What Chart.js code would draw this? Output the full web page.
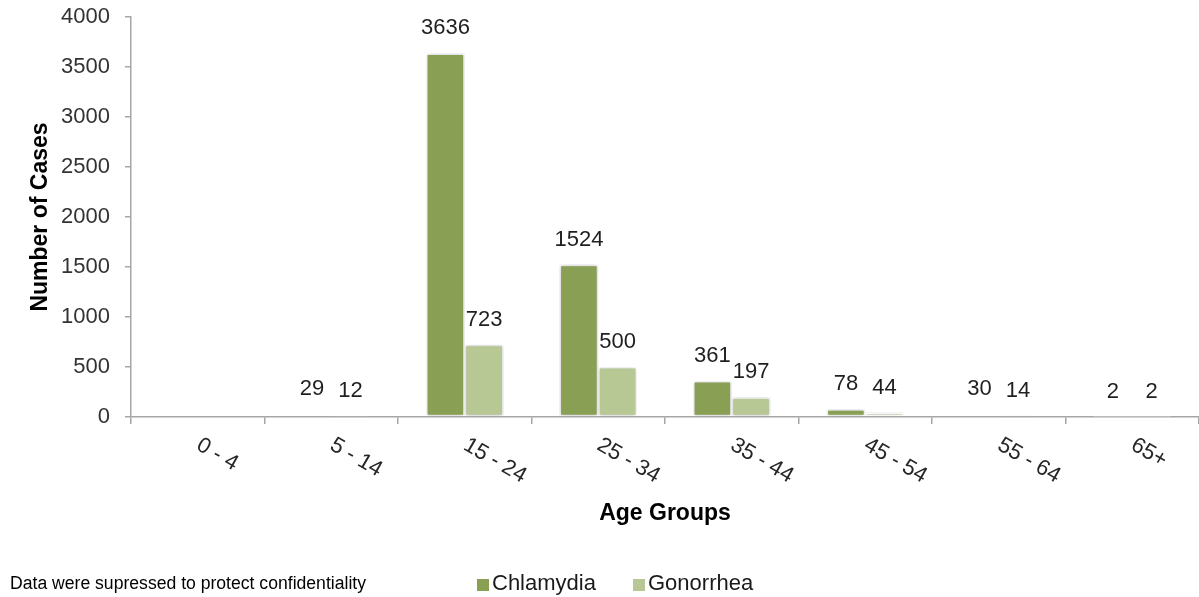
<!DOCTYPE html>
<html>
<head>
<meta charset="utf-8">
<script src="https://cdn.jsdelivr.net/npm/chart.js@4/dist/chart.umd.min.js"></script>
<style>
  html, body { margin: 0; padding: 0; background: #ffffff; }
  #wrap { position: relative; width: 1199px; height: 597px; }
</style>
</head>
<body>
<div id="wrap"><canvas id="c" width="1199" height="597"></canvas></div>
<script>
// ---- data ----
const categories = ['0 - 4', '5 - 14', '15 - 24', '25 - 34', '35 - 44', '45 - 54', '55 - 64', '65+'];
const chlamydia = [null, 29, 3636, 1524, 361, 78, 30, 2];
const gonorrhea = [null, 12, 723, 500, 197, 44, 14, 2];
const seriesNames = ['Chlamydia', 'Gonorrhea'];
const yMin = 0;
const yMax = 4000;
const yStep = 500;
const xTitle = 'Age Groups';
const yTitle = 'Number of Cases';
const footnote = 'Data were supressed to protect confidentiality';

// ---- style ----
const FONT = '"Liberation Sans", Arial, sans-serif';
const colors = ['#89A054', '#B7C895'];
const axisColor = '#a6a6a6';

const customDraw = {
  id: 'customDraw',
  beforeDatasetsDraw(chart) {
    const ctx = chart.ctx;
    ctx.save();
    ctx.shadowColor = 'rgba(0,0,0,0.28)';
    ctx.shadowBlur = 4;
    ctx.shadowOffsetX = 0;
    ctx.shadowOffsetY = 0;
  },
  afterDatasetsDraw(chart) {
    const ctx = chart.ctx;
    ctx.restore();
    // data labels
    ctx.save();
    ctx.font = '22px ' + FONT;
    ctx.fillStyle = '#1f1f1f';
    ctx.textAlign = 'center';
    ctx.textBaseline = 'middle';
    chart.data.datasets.forEach((ds, di) => {
      const meta = chart.getDatasetMeta(di);
      meta.data.forEach((el, i) => {
        const v = ds.data[i];
        if (v === null || v === undefined) return;
        ctx.fillText(String(v), el.x, el.y - 25);
      });
    });
    ctx.restore();
  },
  afterDraw(chart) {
    const ctx = chart.ctx;
    const area = chart.chartArea;
    const xs = chart.scales.x;
    ctx.save();
    // rotated category labels
    ctx.font = '22px ' + FONT;
    ctx.fillStyle = '#262626';
    ctx.textAlign = 'left';
    ctx.textBaseline = 'top';
    categories.forEach((lab, i) => {
      const x = xs.getPixelForValue(i);
      ctx.save();
      ctx.translate(x + 6, area.bottom + 17);
      ctx.rotate(30 * Math.PI / 180);
      ctx.fillText(lab, 0, 0);
      ctx.restore();
    });
    // axis titles
    ctx.font = 'bold 23px ' + FONT;
    ctx.fillStyle = '#000000';
    ctx.textAlign = 'center';
    ctx.textBaseline = 'middle';
    ctx.fillText(xTitle, (area.left + area.right) / 2, 514);
    ctx.save();
    ctx.translate(41, (area.top + area.bottom) / 2);
    ctx.rotate(-Math.PI / 2);
    ctx.fillText(yTitle, 0, 0);
    ctx.restore();
    // footnote
    ctx.font = '17.6px ' + FONT;
    ctx.textAlign = 'left';
    ctx.fillStyle = '#000000';
    ctx.fillText(footnote, 10, 584);
    // legend
    ctx.font = '22px ' + FONT;
    const legendX = [477, 633];
    chart.data.datasets.forEach((ds, di) => {
      const lx = legendX[di];
      ctx.fillStyle = ds.backgroundColor;
      ctx.fillRect(lx, 579, 12, 12);
      ctx.fillStyle = '#1a1a1a';
      ctx.fillText(ds.label, lx + 15, 584);
    });
    ctx.restore();
  }
};

new Chart(document.getElementById('c'), {
  type: 'bar',
  data: {
    labels: categories,
    datasets: [
      { label: seriesNames[0], data: chlamydia, backgroundColor: colors[0], borderColor: '#ffffff', borderWidth: 1.6, borderSkipped: false },
      { label: seriesNames[1], data: gonorrhea, backgroundColor: colors[1], borderColor: '#ffffff', borderWidth: 1.6, borderSkipped: false }
    ]
  },
  options: {
    responsive: false,
    animation: false,
    devicePixelRatio: 1,
    layout: { padding: { top: 17, right: 0, bottom: 0, left: 0 } },
    datasets: { bar: { categoryPercentage: 0.58, barPercentage: 1.0 } },
    plugins: {
      legend: { display: false },
      tooltip: { enabled: false },
      title: { display: false }
    },
    scales: {
      x: {
        offset: true,
        grid: { display: true, drawOnChartArea: false, drawTicks: true, tickLength: 7, color: axisColor, lineWidth: 1.5, offset: true },
        border: { display: true, color: axisColor, width: 1.5 },
        ticks: { display: false },
        afterFit(scale) { scale.height = 180; scale.paddingLeft = 0; scale.paddingRight = 0; }
      },
      y: {
        min: yMin,
        max: yMax,
        grid: { display: true, drawOnChartArea: false, drawTicks: true, tickLength: 6, color: axisColor, lineWidth: 1.5 },
        border: { display: true, color: axisColor, width: 1.5 },
        ticks: {
          stepSize: yStep,
          padding: 15,
          color: '#333333',
          font: { family: FONT, size: 22 },
          callback: (v) => String(v)
        },
        afterFit(scale) { scale.width = 131; scale.paddingTop = 0; scale.paddingBottom = 0; }
      }
    }
  },
  plugins: [customDraw]
});
</script>
</body>
</html>
